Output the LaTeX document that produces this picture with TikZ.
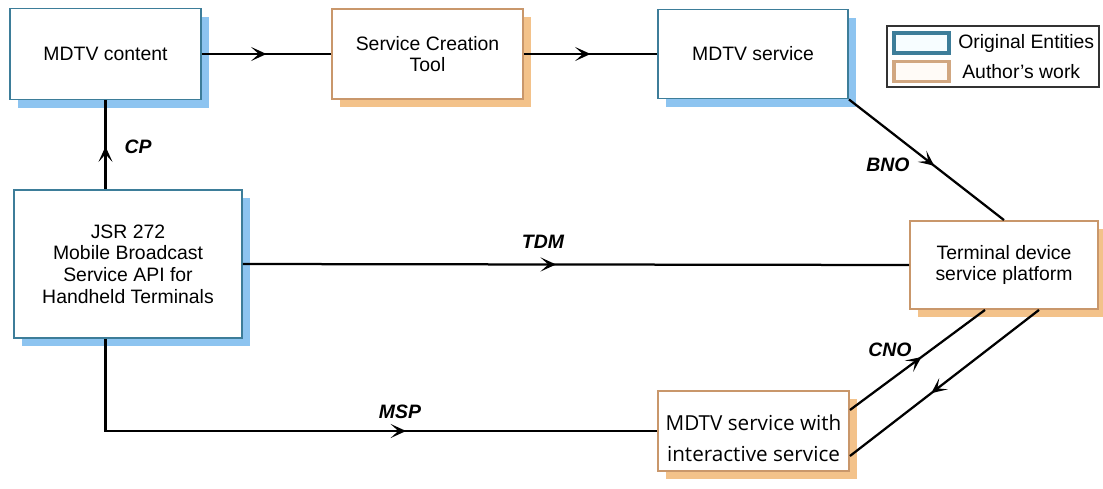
\documentclass[tikz,border=0pt]{standalone}
\usepackage{fontspec}
\setmainfont{Liberation Sans}
\newfontfamily\yahei{Open Sans}
\usetikzlibrary{shadows,decorations.markings,arrows.meta}
\definecolor{entblue}{HTML}{3D7D99}
\definecolor{entshadow}{HTML}{8DC4F0}
\definecolor{authorange}{HTML}{C9976B}
\definecolor{authshadow}{HTML}{F3C28A}
\tikzset{
    box/.style={fill=white, line width=1.3pt, align=center, inner sep=0pt,
        font=\fontsize{13.8}{15.4}\selectfont},
    original/.style={box, draw=entblue,
        general shadow={shadow xshift=0.2cm, shadow yshift=-0.21cm, fill=entshadow}},
    authwork/.style={box, draw=authorange,
        general shadow={shadow xshift=0.2cm, shadow yshift=-0.21cm, fill=authshadow}},
    link/.style={line width=1.6pt},
    midarrow/.style={link, postaction={decorate}, decoration={markings,
        mark=at position #1 with {\arrow{Stealth[length=11pt,width=10pt,inset=5.5pt]}}}},
    lbl/.style={font=\fontsize{13.8}{15}\selectfont\bfseries\itshape},
    swatch/.style={line width=2.2pt, minimum width=1.375cm, minimum height=0.5cm, inner sep=0pt}
}
\begin{document}
\begin{tikzpicture}[x=0.025cm, y=-0.025cm]
    \useasboundingbox (0,0) rectangle (1103,488);
    % boxes
    \node[original, minimum width=4.775cm, minimum height=2.275cm] (content) at (105.5,54) {MDTV content};
    \node[authwork, minimum width=4.775cm, minimum height=2.25cm] (sct) at (427.5,54) {Service Creation\\Tool};
    \node[original, minimum width=4.75cm, minimum height=2.225cm] (service) at (753,54) {MDTV service};
    \node[original, minimum width=5.7cm, minimum height=3.7cm] (jsr) at (128,264) {JSR 272\\Mobile Broadcast\\Service API for\\Handheld Terminals};
    \node[authwork, minimum width=4.7cm, minimum height=2.2cm] (term) at (1004,265) {Terminal device\\service platform};
    \node[authwork, minimum width=4.775cm, minimum height=2cm, font=\fontsize{14.7}{22}\yahei] (inter) at (753.5,431) {\rule{0pt}{21pt}MDTV service with\\interactive service};
    % legend
    \draw[line width=0.8pt, black!80] (887,26) rectangle (1099,87);
    \node[swatch, draw=entblue, fill=cyan!3] (sw1) at (921.5,43) {};
    \node[swatch, draw=authorange!85, fill=orange!3] (sw2) at (921.5,71.5) {};
    \node[anchor=west, font=\fontsize{13.8}{15}\selectfont, inner sep=0pt] (leg1) at (958,43) {Original Entities};
    \node[anchor=west, font=\fontsize{13.8}{15}\selectfont, inner sep=0pt] (leg2) at (962,71.5) {Author's work};
    % connectors
    \coordinate (cpA) at (jsr.north -| content.south);
    \coordinate (mspA) at (jsr.south -| content.south);
    \coordinate (cnoA) at ([yshift=0.525cm]inter.east);
    \coordinate (cnoB) at ([xshift=-0.475cm]term.south);
    \coordinate (retA) at ([xshift=0.875cm]term.south);
    \coordinate (retB) at ([yshift=-0.625cm]inter.east);
    \draw[midarrow=0.5] (content.east) -- (sct.west);
    \draw[midarrow=0.5] (sct.east) -- (service.west);
    \draw[midarrow=0.48] (cpA) -- (content.south);
    \draw[midarrow=0.55] (service.south east) -- (term.north);
    \draw[midarrow=0.47] (jsr.east) -- (term.west);
    \draw[midarrow=0.61] (mspA) |- (inter.west);
    \draw[midarrow=0.53] (cnoA) -- (cnoB);
    \draw[midarrow=0.57] (retA) -- (retB);
    % labels
    \foreach \p/\t in {{138,147}/CP, {888,165}/BNO, {543,242}/TDM, {890,350}/CNO, {400,412}/MSP} {
        \node[lbl] at (\p) {\t};
    }
\end{tikzpicture}
\end{document}
